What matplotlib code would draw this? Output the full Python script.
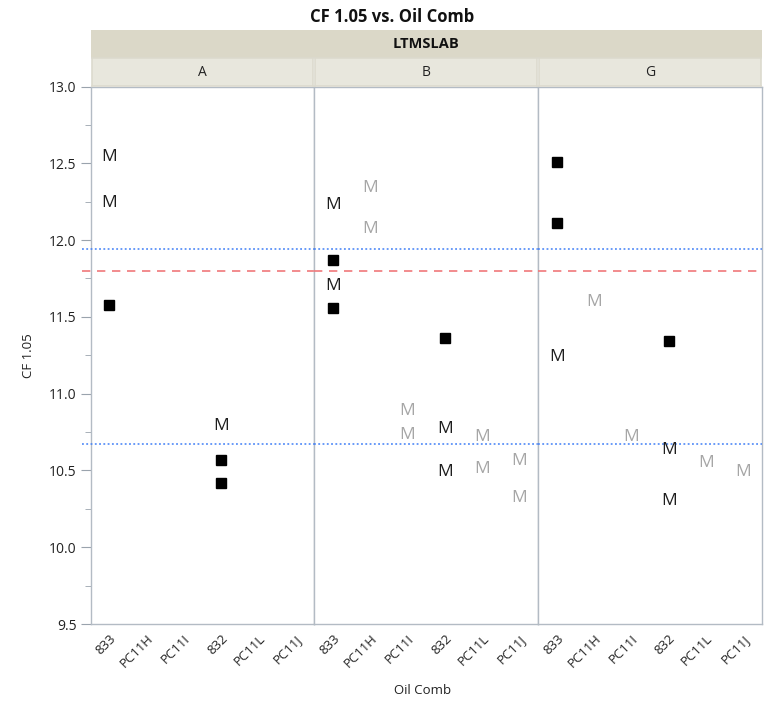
import numpy as np
import matplotlib
matplotlib.use("Agg")
import matplotlib.pyplot as plt
from matplotlib.ticker import MultipleLocator

plt.rcParams['font.family'] = ['Open Sans', 'DejaVu Sans']

categories = ["833", "PC11H", "PC11I", "832", "PC11L", "PC11J"]
labs = ["A", "B", "G"]

# black squares (category, value) per lab
sq_cat = {"A": ["833", "832", "832"],
          "B": ["833", "833", "832"],
          "G": ["833", "833", "832"]}
sq_val = {"A": [11.58, 10.57, 10.42],
          "B": [11.87, 11.56, 11.36],
          "G": [12.51, 12.11, 11.34]}

# dark "M" labels
dm_cat = {"A": ["833", "833", "832"],
          "B": ["833", "833", "832", "832"],
          "G": ["833", "832", "832"]}
dm_val = {"A": [12.54, 12.24, 10.79],
          "B": [12.23, 11.70, 10.77, 10.49],
          "G": [11.24, 10.63, 10.30]}

# grey "M" labels
gm_cat = {"A": [],
          "B": ["PC11H", "PC11H", "PC11I", "PC11I", "PC11L", "PC11L", "PC11J", "PC11J"],
          "G": ["PC11H", "PC11I", "PC11L", "PC11J"]}
gm_val = {"A": [],
          "B": [12.34, 12.07, 10.89, 10.73, 10.72, 10.51, 10.56, 10.32],
          "G": [11.60, 10.72, 10.55, 10.49]}

upper_lim, lower_lim, center = 11.94, 10.67, 11.80
ref_lines = [(upper_lim, "#3f7ef6", (0, (1.2, 1.6)), 1.1),
             (lower_lim, "#3f7ef6", (0, (1.2, 1.6)), 1.1),
             (center, "#f0787a", (0, (5, 4)), 1.2)]

W, H = 773, 703
fig = plt.figure(figsize=(W / 100, H / 100), dpi=100)

def fx(px):
    return px / W

def fy(py):
    return 1 - py / H

left, right, top, bottom = 90.5, 762, 86.5, 624
pw = (right - left) / 3
edge = "#b3bbc4"

axes = []
for i, lab in enumerate(labs):
    ax = fig.add_axes([fx(left + i * pw), fy(bottom), pw / W, (bottom - top) / H])
    ax.set_xlim(-0.5, 5.5)
    ax.set_ylim(9.5, 13.0)
    for s in ax.spines.values():
        s.set_color(edge)
        s.set_linewidth(1.0)
    ax.set_xticks(range(len(categories)))
    ax.set_xticklabels(categories, rotation=45, ha='right', rotation_mode='anchor',
                       fontsize=9.5, color="#222222")
    ax.tick_params(axis='x', length=0, pad=6)
    ax.yaxis.set_major_locator(MultipleLocator(0.5))
    ax.yaxis.set_minor_locator(MultipleLocator(0.25))
    if i == 0:
        ax.yaxis.set_major_formatter(matplotlib.ticker.FormatStrFormatter('%.1f'))
        ax.tick_params(axis='y', which='major', length=7, color="#9aa3ad",
                       labelsize=10, labelcolor="#222222", pad=3)
        ax.tick_params(axis='y', which='minor', length=4, color="#9aa3ad")
        ax.set_ylabel("CF 1.05", fontsize=9.5, color="#222222", labelpad=10)
    else:
        ax.tick_params(axis='y', which='both', left=False, labelleft=False)

    # reference lines (panel A reaches a little into the tick area)
    x0 = -0.04 if i == 0 else 0.0
    for y, col, ls, lw in ref_lines:
        ax.plot([x0, 1.0], [y, y], transform=ax.get_yaxis_transform(), color=col,
                linestyle=ls, linewidth=lw, clip_on=False, zorder=3)

    xs = [categories.index(c) for c in sq_cat[lab]]
    ax.plot(xs, sq_val[lab], 's', color='black', markersize=7.5, zorder=4)
    for c, v in zip(dm_cat[lab], dm_val[lab]):
        ax.text(categories.index(c), v, "M", ha='center', va='center',
                fontsize=12.5, color="#1e1e1e", zorder=4)
    for c, v in zip(gm_cat[lab], gm_val[lab]):
        ax.text(categories.index(c), v, "M", ha='center', va='center',
                fontsize=12.5, color="#a6a6a6", zorder=4)
    axes.append(ax)

# header bands
band = fig.add_axes([fx(left), fy(57.5), (right - left) / W, 27.5 / H])
band.set_facecolor("#dbd8c8")
band.set_xticks([]); band.set_yticks([])
for s in band.spines.values():
    s.set_visible(False)
band.text(0.5, 0.5, "LTMSLAB", ha='center', va='center', fontsize=10.5,
          fontweight='bold', color="#111111", transform=band.transAxes)

for i, lab in enumerate(labs):
    sub = fig.add_axes([fx(left + i * pw + 1), fy(top - 0.5), (pw - 2) / W, 28 / H])
    sub.set_facecolor("#e8e7dd")
    sub.set_xticks([]); sub.set_yticks([])
    for s in sub.spines.values():
        s.set_color("#dcdace")
        s.set_linewidth(1.2)
    sub.text(0.5, 0.5, lab, ha='center', va='center', fontsize=10,
             color="#222222", transform=sub.transAxes)

fig.text(fx(392), fy(17), "CF 1.05 vs. Oil Comb", ha='center', va='center',
         fontsize=12, fontweight='bold', color="#111111")
fig.text(fx(423), fy(690), "Oil Comb", ha='center', va='center',
         fontsize=9.5, color="#222222")

fig.savefig("out.png", dpi=100, facecolor="white")
